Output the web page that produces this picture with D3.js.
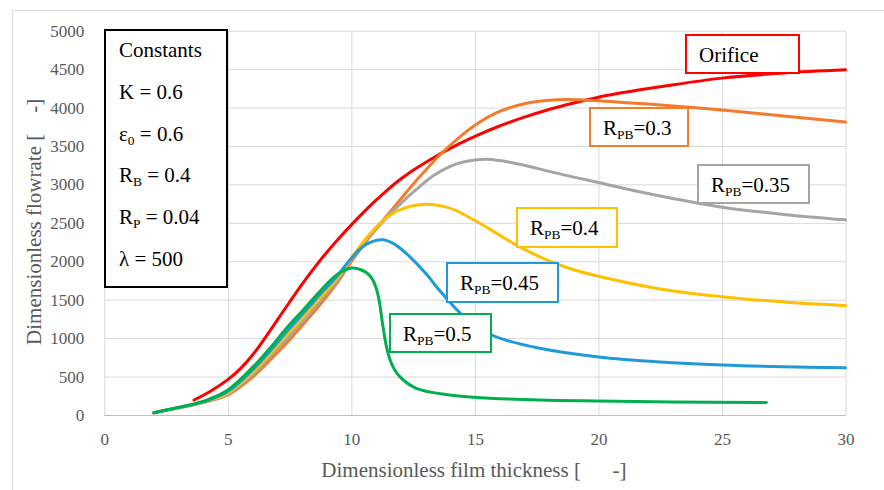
<!DOCTYPE html>
<meta charset="utf-8">
<head>
<style>
  body { margin: 0; background: #fff; }
  .grid line { stroke: #d9d9d9; stroke-width: 1; }
</style>
</head>
<body>
<div id="chart"></div>
<script src="https://d3js.org/d3.v7.min.js"></script>
<script>

// series: [film thickness, flowrate]
var orifice = [[3.63,195],[4.3,310],[5,460],[5.5,600],[6,780],[6.5,1000],[7,1235],[7.5,1470],[8,1700],
  [8.5,1915],[9,2115],[9.5,2300],[10,2474],[10.5,2640],[11,2795],[11.5,2940],[12,3070],[12.5,3185],
  [13,3285],[13.5,3380],[14,3470],[15,3625],[16,3760],[17,3875],[18,3975],[19,4060],[20,4135],
  [21,4195],[22.5,4270],[25,4383],[27.5,4450],[30,4492]];

var rpb030 = [[2,28],[3,92],[3.6,132],[4.2,178],[5,262],[6.03,500],[6.7,712],[7.37,933],[8.05,1180],
  [8.72,1432],[9.4,1710],[10,1996],[10.6,2260],[11.28,2530],[12,2810],[12.63,3050],[13.57,3380],
  [14.25,3580],[15,3770],[16,3950],[17,4050],[18,4095],[18.7,4105],[19.4,4098],[20,4090],[22,4045],
  [25,3968],[27.5,3890],[30,3811]];

var rpb035 = [[2,28],[3,94],[3.6,134],[4.2,182],[5,272],[6.03,534],[6.7,760],[7.37,985],[8.05,1225],
  [8.72,1475],[9.4,1740],[10,2025],[10.6,2280],[11.28,2515],[11.96,2740],[12.63,2935],[13.3,3110],
  [13.98,3233],[14.5,3290],[15,3318],[15.5,3328],[16,3310],[17,3250],[18,3170],[19,3095],[20,3025],
  [21,2950],[22.5,2850],[25,2704],[27.5,2610],[30,2539]];

var rpb040 = [[2,29],[3,96],[3.6,136],[4.2,186],[5,285],[6.03,564],[6.7,790],[7.37,1030],[8.05,1275],
  [8.72,1520],[9.4,1770],[10,2040],[10.6,2300],[11.28,2530],[11.96,2669],[12.9,2740],[13.98,2691],
  [15,2530],[16,2340],[16.5,2245],[17,2155],[18,2005],[19,1890],[20,1805],[22.5,1640],[25,1540],
  [27.5,1470],[30,1423]];

var rpb045 = [[2,29],[3,98],[3.6,138],[4.2,192],[5,305],[6.03,595],[6.7,830],[7.37,1080],[8.05,1320],
  [8.72,1565],[9.4,1800],[10,2040],[10.6,2220],[11.28,2280],[11.8,2210],[12.36,2061],[13.04,1830],
  [13.57,1620],[14.25,1375],[14.92,1180],[15.5,1070],[16,1000],[17.62,868],[20,755],[22.5,690],
  [25,651],[27.5,628],[30,616]];

var rpb050 = [[2,30],[2.8,85],[3.6,140],[4.2,200],[5,325],[6.03,629],[6.7,868],[7.37,1128],[8.05,1367],
  [8.72,1605],[9.4,1823],[10,1912],[10.3,1900],[10.6,1855],[10.8,1790],[10.95,1700],[11.1,1530],
  [11.28,1150],[11.42,889],[11.62,673],[11.96,499],[12.63,347],[13.98,260],[14.93,232],[17.62,195],
  [20,182],[23,170],[26.8,162]];

var seriesNames = ["Orifice", "0.3", "0.35", "0.4", "0.45", "0.5"];
var seriesData = [orifice, rpb030, rpb035, rpb040, rpb045, rpb050];
var seriesColors = ["#ff0000", "#f47b2a", "#a5a5a5", "#ffc000", "#1f9ad9", "#00b04f"];

var xTicks = [0, 5, 10, 15, 20, 25, 30];
var yTicks = [0, 500, 1000, 1500, 2000, 2500, 3000, 3500, 4000, 4500, 5000];

var constantsLines = [
  ["Constants"],
  ["K = 0.6"],
  ["\u03b5", "0", " = 0.6"],
  ["R", "B", " = 0.4"],
  ["R", "P", " = 0.04"],
  ["\u03bb = 500"]
];

// label boxes, in pixels
var boxes = [
  {x: 686, y: 35, w: 113, h: 38},
  {x: 590, y: 108, w: 98, h: 38},
  {x: 698, y: 165, w: 111, h: 38},
  {x: 517, y: 208, w: 100, h: 39},
  {x: 447, y: 263, w: 111, h: 39},
  {x: 390, y: 314, w: 101, h: 38}
];

var SERIF = "Liberation Serif";

var W = 884, H = 490;
var margin = {top: 30.7, right: 884 - 845.5, bottom: 490 - 415, left: 104.3},
    width = W - margin.left - margin.right,
    height = H - margin.top - margin.bottom;

var root = d3.select("#chart").append("svg")
    .attr("width", W)
    .attr("height", H);

// outer chart frame (clipped in the picture)
root.append("path")
    .attr("d", "M12.5,490V10.5H884")
    .attr("fill", "none")
    .attr("stroke", "#d9d9d9");

var svg = root.append("g")
    .attr("transform", "translate(" + margin.left + "," + margin.top + ")");

var x = d3.scaleLinear().domain([0, 30]).range([0, width]);
var y = d3.scaleLinear().domain([0, 5000]).range([height, 0]);

// gridlines
svg.append("g")
    .attr("class", "grid")
    .attr("transform", "translate(0," + height + ")")
    .call(d3.axisBottom(x).tickValues(xTicks).tickSize(-height).tickFormat(""))
    .call(function(g) { g.select(".domain").remove(); });

svg.append("g")
    .attr("class", "grid")
    .call(d3.axisLeft(y).tickValues(yTicks).tickSize(-width).tickFormat(""))
    .call(function(g) { g.select(".domain").remove(); });

// bottom axis line
svg.append("line")
    .attr("x1", 0).attr("x2", width)
    .attr("y1", height + 0.5).attr("y2", height + 0.5)
    .attr("stroke", "#bfbfbf");

// tick labels
function styleTicks(g) {
  g.select(".domain").remove();
  g.selectAll("text")
    .attr("font-family", SERIF)
    .attr("font-size", 17)
    .attr("fill", "#595959");
}

svg.append("g")
    .attr("transform", "translate(0," + height + ")")
    .call(d3.axisBottom(x).tickValues(xTicks).tickSize(0).tickPadding(18).tickFormat(d3.format("d")))
    .call(styleTicks);

svg.append("g")
    .call(d3.axisLeft(y).tickValues(yTicks).tickSize(0).tickPadding(20).tickFormat(d3.format("d")))
    .call(styleTicks);

// axis titles
svg.append("text")
    .attr("x", width / 2 - 1)
    .attr("y", height + 62)
    .attr("text-anchor", "middle")
    .attr("fill", "#595959")
    .attr("font-family", SERIF)
    .attr("font-size", 21)
    .style("white-space", "pre")
    .text("Dimensionless film thickness [      -]");

svg.append("text")
    .attr("transform", "translate(" + (-margin.left + 41) + "," + (height / 2 - 1) + ") rotate(-90)")
    .attr("text-anchor", "middle")
    .attr("fill", "#595959")
    .attr("font-family", SERIF)
    .attr("font-size", 21)
    .style("white-space", "pre")
    .text("Dimensionless flowrate [    -]");

// curves
var line = d3.line()
    .x(function(d) { return x(d[0]); })
    .y(function(d) { return y(d[1]); })
    .curve(d3.curveCatmullRom.alpha(0.5));

svg.selectAll(".series")
    .data(seriesData)
  .enter().append("path")
    .attr("class", "series")
    .attr("d", line)
    .attr("fill", "none")
    .attr("stroke", function(d, i) { return seriesColors[i]; })
    .attr("stroke-width", 3)
    .attr("stroke-linejoin", "round")
    .attr("stroke-linecap", "round");

// constants box
root.append("rect")
    .attr("x", 105).attr("y", 30)
    .attr("width", 122).attr("height", 257)
    .attr("fill", "#fff")
    .attr("stroke", "#000")
    .attr("stroke-width", 2);

constantsLines.forEach(function(parts, i) {
  var t = root.append("text")
      .attr("x", 119)
      .attr("y", 57 + i * 41.8)
      .attr("fill", "#000")
      .attr("font-family", SERIF)
      .attr("font-size", 21);
  t.append("tspan").text(parts[0]);
  if (parts.length > 1) {
    t.append("tspan").attr("dy", 4).attr("font-size", 13.5).text(parts[1]);
    t.append("tspan").attr("dy", -4).text(parts[2]);
  }
});

// series label boxes
boxes.forEach(function(b, i) {
  root.append("rect")
      .attr("x", b.x).attr("y", b.y)
      .attr("width", b.w).attr("height", b.h)
      .attr("fill", "#fff")
      .attr("stroke", seriesColors[i])
      .attr("stroke-width", 2);
  var t = root.append("text")
      .attr("x", b.x + 13)
      .attr("y", b.y + 27)
      .attr("fill", "#000")
      .attr("font-family", SERIF)
      .attr("font-size", 21);
  if (i === 0) {
    t.text(seriesNames[i]);
  } else {
    t.append("tspan").text("R");
    t.append("tspan").attr("dy", 4).attr("font-size", 13.5).text("PB");
    t.append("tspan").attr("dy", -4).text("=" + seriesNames[i]);
  }
});

</script>
</body>
